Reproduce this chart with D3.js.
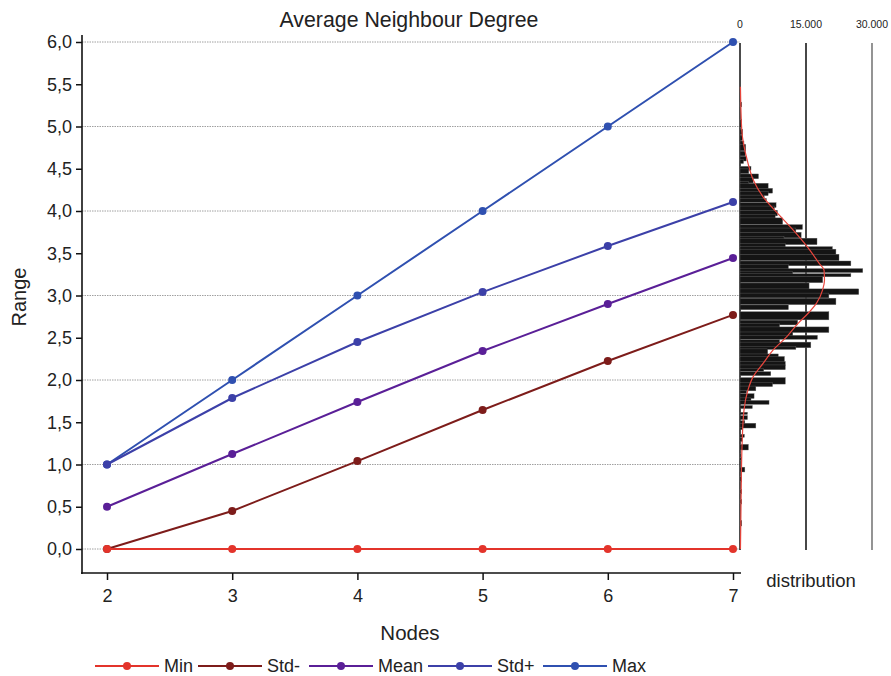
<!DOCTYPE html>
<html><head><meta charset="utf-8">
<script src="https://cdn.jsdelivr.net/npm/d3@7"></script>
<style>
html,body{margin:0;padding:0;background:#fff;}
svg text{font-family:"Liberation Sans",Arial,Helvetica,sans-serif;fill:#222;}
</style></head>
<body>
<svg id="chart" width="891" height="676"></svg>
<script>
// ---- data ----
const nodes = [2, 3, 4, 5, 6, 7];
const minVals  = [0, 0, 0, 0, 0, 0];
const stdMinus = [0, 0.45, 1.04, 1.645, 2.225, 2.77];
const meanVals = [0.5, 1.124, 1.74, 2.343, 2.90, 3.444];
const stdPlus  = [1.0, 1.787, 2.45, 3.04, 3.586, 4.107];
const maxVals  = [1, 2, 3, 4, 5, 6];
const seriesNames = ["Min", "Std-", "Mean", "Std+", "Max"];
const seriesColors = ["#e3342b", "#7d1c1a", "#5a1f97", "#3c40a8", "#2f50b0"];
const yTicks = [0, 0.5, 1, 1.5, 2, 2.5, 3, 3.5, 4, 4.5, 5, 5.5, 6];
const gridVals = [0, 1, 2, 3, 4, 5, 6];
const distTicks = [0, 15000, 30000];

// histogram bins (range value low, high, count)
const binLo = [5.24,4.99,4.91,4.84,4.78,4.72,4.66,4.60,4.57,4.49,4.45,4.39,4.34,4.32,4.27,4.22,4.19,4.14,4.11,4.05,4.01,3.95,3.91,3.85,3.79,3.75,3.69,3.67,3.61,3.57,3.54,3.49,3.42,3.36,3.31,3.28,3.25,3.23,3.16,3.08,3.02,2.98,2.90,2.84,2.72,2.66,2.63,2.57,2.52,2.49,2.44,2.39,2.37,2.31,2.27,2.22,2.18,2.13,2.11,2.06,1.96,1.93,1.88,1.85,1.79,1.76,1.72,1.67,1.60,1.54,1.49,1.44,1.42,1.33,1.28,1.18,1.08,1.05,0.92,0.80,0.66,0.54,0.28];
const binHi = [5.28,5.08,4.96,4.89,4.82,4.78,4.70,4.64,4.60,4.52,4.49,4.43,4.39,4.34,4.32,4.26,4.22,4.18,4.14,4.09,4.05,4.00,3.95,3.91,3.83,3.79,3.74,3.69,3.67,3.61,3.57,3.54,3.48,3.40,3.36,3.31,3.28,3.25,3.22,3.14,3.07,3.02,2.96,2.88,2.80,2.70,2.66,2.62,2.56,2.52,2.47,2.44,2.39,2.36,2.30,2.27,2.21,2.17,2.13,2.09,2.02,1.96,1.92,1.87,1.83,1.78,1.75,1.69,1.61,1.57,1.51,1.48,1.43,1.35,1.31,1.23,1.12,1.08,0.96,0.85,0.70,0.58,0.33];
const binCount = [400,400,600,500,900,1300,1200,1400,800,2500,2000,4200,3000,2000,6400,7400,6400,5500,6000,8200,7800,8500,8000,9700,14200,12700,13900,10000,17500,10300,21000,21800,22500,25200,11000,27900,12000,25200,18800,15700,27000,20200,21800,11000,20200,13100,9000,20200,12000,17600,9000,16100,12700,6300,8700,10100,10300,10300,5400,7000,10300,7400,3600,1500,3200,2500,6600,2800,1700,1700,1100,3600,600,1000,500,1900,200,400,1100,400,400,400,400];
// fitted density curve (range value, count)
const curveV = [5.47,4.96,4.57,4.37,4.17,3.98,3.78,3.57,3.38,3.30,3.18,3.07,2.91,2.79,2.67,2.51,2.36,2.20,2.04,1.88,1.64,1.20,0.82,0.40,0];
const curveC = [100,400,1800,3000,5200,8400,12000,15400,18000,19100,19200,18800,17400,15500,13200,10600,7600,5300,3000,1800,900,450,300,200,100];

// ---- chart ----
const svg = d3.select("#chart");
const x = d3.scaleLinear().domain([2, 7]).range([107, 733]);
const y = d3.scaleLinear().domain([0, 6]).range([549, 42]);
const xd = d3.scaleLinear().domain([0, 30000]).range([740, 872]);
const fmt = d => d3.format(".1f")(d).replace(".", ",");

// grid lines
svg.append("g").selectAll("line").data(gridVals).join("line")
  .attr("x1", 82).attr("x2", 740)
  .attr("y1", d => y(d)).attr("y2", d => y(d))
  .attr("stroke", "#888").attr("stroke-width", 0.8).attr("stroke-dasharray", "1.5,1");

// y axis
const yAxis = svg.append("g").attr("transform", "translate(82,0)")
  .call(d3.axisLeft(y).tickValues(yTicks).tickFormat(fmt).tickSize(6).tickPadding(4));
yAxis.select(".domain").remove();
svg.append("line").attr("x1", 82).attr("x2", 82).attr("y1", 35).attr("y2", 574)
  .attr("stroke", "#111").attr("stroke-width", 1.6);
yAxis.selectAll(".tick line").attr("stroke", "#111").attr("stroke-width", 1.5);
yAxis.selectAll(".tick text").style("font-size", "18px").attr("fill", "#222");

// x axis
const xAxis = svg.append("g").attr("transform", "translate(0,573)")
  .call(d3.axisBottom(x).tickValues(nodes).tickFormat(d3.format("d")).tickSize(7).tickPadding(9));
xAxis.select(".domain").remove();
svg.append("line").attr("x1", 81).attr("x2", 741).attr("y1", 573).attr("y2", 573)
  .attr("stroke", "#111").attr("stroke-width", 1.6);
xAxis.selectAll(".tick line").attr("stroke", "#111").attr("stroke-width", 1.5);
xAxis.selectAll(".tick text").style("font-size", "18px").attr("fill", "#222");

// titles
svg.append("text").attr("x", 409).attr("y", 27).attr("text-anchor", "middle")
  .style("font-size", "21.3px").text("Average Neighbour Degree");
svg.append("text").attr("x", 410).attr("y", 640).attr("text-anchor", "middle")
  .style("font-size", "20.5px").text("Nodes");
svg.append("text").attr("transform", "translate(26,297) rotate(-90)").attr("text-anchor", "middle")
  .style("font-size", "20px").text("Range");

// distribution panel
svg.append("g").selectAll("line").data(distTicks).join("line")
  .attr("x1", d => xd(d)).attr("x2", d => xd(d)).attr("y1", 43).attr("y2", 550)
  .attr("stroke", (d, i) => ["#111", "#333", "#888"][i])
  .attr("stroke-width", (d, i) => i === 0 ? 1.5 : 1.8);
svg.append("g").selectAll("text").data(distTicks).join("text")
  .attr("x", d => xd(d)).attr("y", 28).attr("text-anchor", "middle")
  .style("font-size", "10.5px").text(d => d3.format(",")(d).replace(/,/g, "."));
svg.append("text").attr("x", 811).attr("y", 587).attr("text-anchor", "middle")
  .style("font-size", "18.5px").text("distribution");

const bins = binLo.map((lo, i) => ({lo, hi: binHi[i], c: binCount[i]}));
svg.append("g").selectAll("rect").data(bins).join("rect")
  .attr("x", xd(0))
  .attr("y", d => y(d.hi) - 0.7)
  .attr("width", d => xd(d.c) - xd(0))
  .attr("height", d => Math.max(1.5, y(d.lo) - y(d.hi) + 1.4))
  .attr("fill", "#141414").attr("stroke", "#666").attr("stroke-width", 0.4);

const curve = curveV.map((v, i) => [curveC[i], v]);
svg.append("path").datum(curve)
  .attr("d", d3.line().x(d => xd(d[0])).y(d => y(d[1])).curve(d3.curveMonotoneY))
  .attr("fill", "none").attr("stroke", "#e8453c").attr("stroke-width", 1.2);

// series lines
const seriesData = [minVals, stdMinus, meanVals, stdPlus, maxVals];
const line = d3.line().x(d => x(d[0])).y(d => y(d[1]));
const order = [4, 3, 2, 1, 0];
order.forEach(si => {
  const pts = nodes.map((n, i) => [n, seriesData[si][i]]);
  const g = svg.append("g");
  g.append("path").datum(pts).attr("d", line)
    .attr("fill", "none").attr("stroke", seriesColors[si]).attr("stroke-width", 2);
  g.selectAll("circle").data(pts).join("circle")
    .attr("cx", d => x(d[0])).attr("cy", d => y(d[1])).attr("r", 4)
    .attr("fill", seriesColors[si]);
});

// legend
const legX = [95, 198, 309, 428, 543];
const leg = svg.append("g");
seriesNames.forEach((name, i) => {
  const lx = legX[i];
  leg.append("line").attr("x1", lx).attr("x2", lx + 64).attr("y1", 666).attr("y2", 666)
    .attr("stroke", seriesColors[i]).attr("stroke-width", 2);
  leg.append("circle").attr("cx", lx + 32).attr("cy", 666).attr("r", 4).attr("fill", seriesColors[i]);
  leg.append("text").attr("x", lx + 69).attr("y", 672).style("font-size", "18px").text(name);
});
</script>
</body></html>
